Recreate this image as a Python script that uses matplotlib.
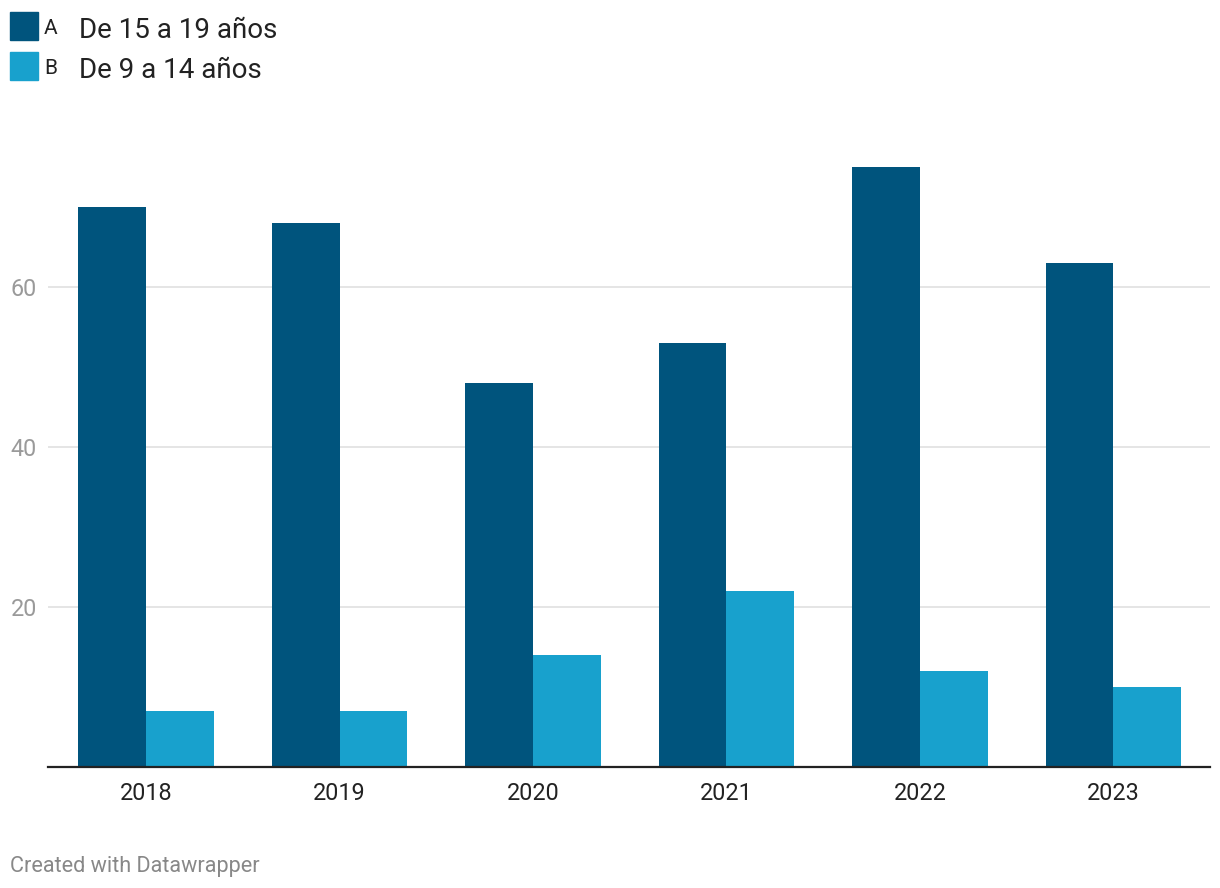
import numpy as np
import matplotlib.pyplot as plt
from matplotlib.patches import Rectangle

plt.rcParams['font.family'] = ['Roboto', 'DejaVu Sans']

years = ['2018', '2019', '2020', '2021', '2022', '2023']
serie_a = [70, 68, 48, 53, 75, 63]   # De 15 a 19 años
serie_b = [7, 7, 14, 22, 12, 10]     # De 9 a 14 años
labels = ['De 15 a 19 años', 'De 9 a 14 años']
keys = ['A', 'B']
colors = ['#00547d', '#18a1cd']

fig = plt.figure(figsize=(12.2, 8.88), dpi=100)
ax = fig.add_axes([48/1220, 121/888, 1162/1220, 600/888])

x = np.arange(len(years))
w = 0.35
ax.bar(x - w/2, serie_a, w, color=colors[0], zorder=3)
ax.bar(x + w/2, serie_b, w, color=colors[1], zorder=3)

ax.set_xlim(-0.507, 5.5)
ax.set_ylim(0, 75)
ax.set_yticks([20, 40, 60])
ax.grid(axis='y', color='#e0e0e0', linewidth=1.2, zorder=0)
ax.set_xticks(x)
ax.set_xticklabels(years)
ax.tick_params(axis='x', length=0, pad=11, labelsize=16.8, labelcolor='#222222')
ax.tick_params(axis='y', length=0, pad=8, labelsize=16.8, labelcolor='#9a9a9a')
for s in ['top', 'right', 'left']:
    ax.spines[s].set_visible(False)
ax.spines['bottom'].set_color('#222222')
ax.spines['bottom'].set_linewidth(1.6)
ax.spines['bottom'].set_zorder(4)

# leyenda
for i, (k, lab) in enumerate(zip(keys, labels)):
    y0 = 888 - 40 - i*40
    fig.patches.append(Rectangle((10/1220, y0/888), 28/1220, 28/888,
                                 transform=fig.transFigure, color=colors[i]))
    fig.text(44/1220, (y0 + 12)/888, k, fontsize=15, color='#222222', va='center')
    fig.text(79/1220, (y0 + 10)/888, lab, fontsize=20, color='#222222', va='center')

fig.text(10/1220, 22/888, 'Created with Datawrapper', fontsize=15.6, color='#888888', va='center')

fig.savefig('out.png', dpi=100, facecolor='white')
